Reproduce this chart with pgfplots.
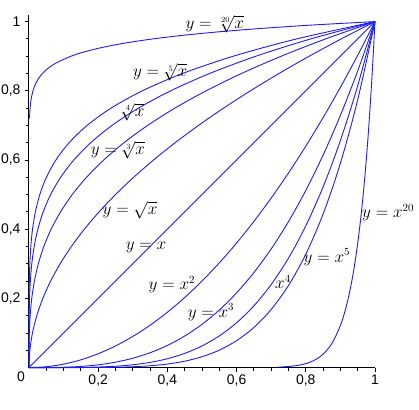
\documentclass[border=0pt]{standalone}
\usepackage{pgfplots}
\usepackage{pgfplotstable}
\pgfplotsset{compat=1.18}
\usepackage{fontspec}
\setmainfont{Liberation Sans}

\pgfplotstableread{
x     x2      x3        x4          x5
0     0       0         0           0
0.05  0.0025  0.000125  0.00000625  0.0000003125
0.10  0.01    0.001     0.0001      0.00001
0.15  0.0225  0.003375  0.00050625  0.0000759
0.20  0.04    0.008     0.0016      0.00032
0.25  0.0625  0.015625  0.00390625  0.000977
0.30  0.09    0.027     0.0081      0.00243
0.35  0.1225  0.042875  0.0150063   0.0052522
0.40  0.16    0.064     0.0256      0.01024
0.45  0.2025  0.091125  0.0410063   0.0184528
0.50  0.25    0.125     0.0625      0.03125
0.55  0.3025  0.166375  0.0915063   0.0503284
0.60  0.36    0.216     0.1296      0.07776
0.65  0.4225  0.274625  0.1785063   0.1160291
0.70  0.49    0.343     0.2401      0.16807
0.75  0.5625  0.421875  0.3164063   0.2373047
0.80  0.64    0.512     0.4096      0.32768
0.85  0.7225  0.614125  0.5220063   0.4437053
0.90  0.81    0.729     0.6561      0.59049
0.95  0.9025  0.857375  0.8145063   0.7737809
1.00  1       1         1           1
}\tabA

\pgfplotstableread{
x     x20
0.72  0.001402
0.74  0.002425
0.76  0.004133
0.78  0.006948
0.80  0.011529
0.82  0.018892
0.84  0.030591
0.86  0.048974
0.88  0.077563
0.90  0.121577
0.91  0.151646
0.92  0.188694
0.93  0.234238
0.94  0.290109
0.95  0.358486
0.96  0.442002
0.97  0.543796
0.98  0.667610
0.99  0.817905
1.00  1
}\tabB

\definecolor{mapleblue}{RGB}{30,30,235}

\begin{document}
\begin{tikzpicture}
\begin{axis}[
  x=346bp, y=346bp,
  xmin=0, xmax=1, ymin=0, ymax=1.02,
  axis lines=left,
  axis line style={-, line width=1bp, black},
  clip=false,
  xtick={0.2,0.4,0.6,0.8,1},
  ytick={0.2,0.4,0.6,0.8,1},
  minor xtick={0.05,0.1,0.15,0.25,0.3,0.35,0.45,0.5,0.55,0.65,0.7,0.75,0.85,0.9,0.95},
  minor ytick={0.05,0.1,0.15,0.25,0.3,0.35,0.45,0.5,0.55,0.65,0.7,0.75,0.85,0.9,0.95},
  tick align=outside,
  major tick length=4bp, minor tick length=3bp,
  every tick/.style={black, line width=0.8bp},
  ticklabel style={font=\fontsize{14}{14}\selectfont},
  yticklabel style={xshift=-1bp},
  /pgf/number format/.cd, use comma, fixed, assume math mode=true,
]
\pgfplotsset{cur/.style={mapleblue, line width=0.9bp, smooth, no markers, solid}}
\addplot[cur] table[x=x, y=x]{\tabA};
\addplot[cur] table[x=x, y=x2]{\tabA};
\addplot[cur] table[x=x, y=x3]{\tabA};
\addplot[cur] table[x=x, y=x4]{\tabA};
\addplot[cur] table[x=x, y=x5]{\tabA};
\addplot[cur] table[x=x, y=x20]{\tabB};
\addplot[cur] table[x=x2, y=x]{\tabA};
\addplot[cur] table[x=x3, y=x]{\tabA};
\addplot[cur] table[x=x4, y=x]{\tabA};
\addplot[cur] table[x=x5, y=x]{\tabA};
\addplot[cur] table[x=x20, y=x]{\tabB};

\begin{scope}[every node/.style={font=\fontsize{16}{16}\selectfont, inner sep=0pt}]
\node[anchor=base] at (axis cs:0.537,0.980) {$y=\sqrt[20]{x}$};
\node at (axis cs:0.379,0.854) {$y=\sqrt[5]{x}$};
\node at (axis cs:0.300,0.739) {$\sqrt[4]{x}$};
\node at (axis cs:0.257,0.629) {$y=\sqrt[3]{x}$};
\node at (axis cs:0.292,0.455) {$y=\sqrt{x}$};
\node at (axis cs:0.338,0.346) {$y=x$};
\node at (axis cs:0.413,0.239) {$y=x^{2}$};
\node at (axis cs:0.526,0.160) {$y=x^{3}$};
\node at (axis cs:0.734,0.247) {$x^{4}$};
\node at (axis cs:0.861,0.319) {$y=x^{5}$};
\node at (axis cs:1.038,0.447) {$y=x^{20}$};
\end{scope}
\node[anchor=north east, font=\fontsize{14}{14}\selectfont, inner sep=4bp] at (axis cs:0,0) {0};
\coordinate (bl) at (axis cs:-0.0838,-0.1197);
\coordinate (tr) at (axis cs:1.1272,1.0624);
\end{axis}
\pgfresetboundingbox
\path[use as bounding box] (bl) rectangle (tr);
\end{tikzpicture}
\end{document}
